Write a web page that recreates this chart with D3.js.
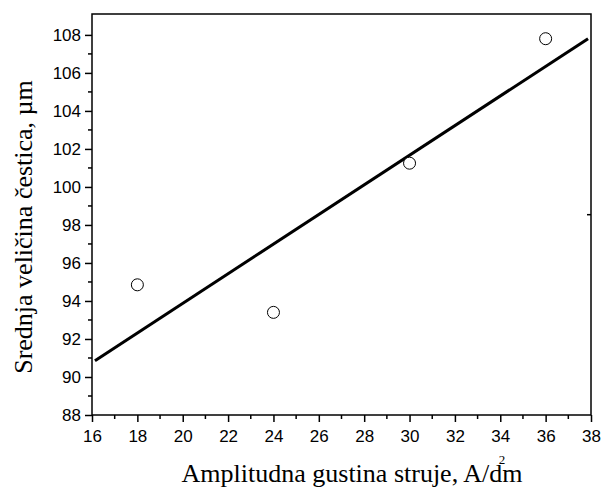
<!DOCTYPE html>
<html>
<head>
<meta charset="utf-8">
<script src="https://cdn.jsdelivr.net/npm/d3@7"></script>
<style>
  body { margin: 0; background: #fff; }
  svg { display: block; }
</style>
</head>
<body>
<div id="vis"></div>
<script>
// measured points
const currentDensity = [18, 24, 30, 36]
const particleSize = [94.85, 93.4, 101.25, 107.8]

// fitted line as drawn (end points)
const fitX = [16.13, 37.87]
const fitY = [90.86, 107.8]

const xTicks = [16, 18, 20, 22, 24, 26, 28, 30, 32, 34, 36, 38]
const yTicks = [88, 90, 92, 94, 96, 98, 100, 102, 104, 106, 108]
const rightTicks = [98.54]

const width = 601
const height = 488
const margin = { top: 14, right: 10, bottom: 73, left: 92 }

const x = d3.scaleLinear()
  .domain([16, 38])
  .range([margin.left, width - margin.right])

const y = d3.scaleLinear()
  .domain([88, 109.1])
  .range([height - margin.bottom, margin.top])

const svg = d3.select("#vis").append("svg")
  .attr("width", width)
  .attr("height", height)

const minorX = d3.range(17, 38, 2)
const minorY = d3.range(89, 109, 2)

// bottom axis
const xAxis = g => g
  .attr("transform", `translate(0,${y(88)})`)
  .call(d3.axisBottom(x).tickValues(xTicks).tickSize(7).tickSizeOuter(0).tickPadding(8))
  .call(g => g.select(".domain").remove())
  .call(g => g.selectAll(".tick line").attr("stroke-width", 1.5))
  .call(g => g.selectAll(".tick text")
    .attr("font-family", "Liberation Sans, Arial, sans-serif")
    .attr("font-size", 17)
    .attr("fill", "#000"))

svg.append("g").call(xAxis)

svg.append("g")
  .attr("transform", `translate(0,${y(88)})`)
  .selectAll("line")
  .data(minorX)
  .join("line")
  .attr("x1", d => x(d)).attr("x2", d => x(d))
  .attr("y1", 0).attr("y2", 4)
  .attr("stroke", "#000")
  .attr("stroke-width", 1.5)

// left axis
const yAxis = g => g
  .attr("transform", `translate(${x(16)},0)`)
  .call(d3.axisLeft(y).tickValues(yTicks).tickSize(7).tickSizeOuter(0).tickPadding(4))
  .call(g => g.select(".domain").remove())
  .call(g => g.selectAll(".tick line").attr("stroke-width", 1.5))
  .call(g => g.selectAll(".tick text")
    .attr("font-family", "Liberation Sans, Arial, sans-serif")
    .attr("font-size", 17)
    .attr("fill", "#000"))

svg.append("g").call(yAxis)

svg.append("g")
  .attr("transform", `translate(${x(16)},0)`)
  .selectAll("line")
  .data(minorY)
  .join("line")
  .attr("x1", -4).attr("x2", 0)
  .attr("y1", d => y(d)).attr("y2", d => y(d))
  .attr("stroke", "#000")
  .attr("stroke-width", 1.5)

// stray tick on the right side
svg.append("g")
  .selectAll("line")
  .data(rightTicks)
  .join("line")
  .attr("x1", x(38) - 4).attr("x2", x(38))
  .attr("y1", d => y(d)).attr("y2", d => y(d))
  .attr("stroke", "#000")
  .attr("stroke-width", 1.5)

// frame
svg.append("rect")
  .attr("x", x(16))
  .attr("y", y(109.1))
  .attr("width", x(38) - x(16))
  .attr("height", y(88) - y(109.1))
  .attr("fill", "none")
  .attr("stroke", "#000")
  .attr("stroke-width", 1.5)

// fit line
const line = d3.line()
  .x(d => x(d[0]))
  .y(d => y(d[1]))

svg.append("path")
  .datum(d3.zip(fitX, fitY))
  .attr("d", line)
  .attr("fill", "none")
  .attr("stroke", "#000")
  .attr("stroke-width", 3)

// points
svg.append("g")
  .selectAll("circle")
  .data(d3.zip(currentDensity, particleSize))
  .join("circle")
  .attr("cx", d => x(d[0]))
  .attr("cy", d => y(d[1]))
  .attr("r", 6)
  .attr("fill", "#fff")
  .attr("stroke", "#000")
  .attr("stroke-width", 1)

// axis titles
svg.append("text")
  .attr("x", 352)
  .attr("y", 482)
  .attr("text-anchor", "middle")
  .attr("font-family", "Liberation Serif, Times New Roman, serif")
  .attr("font-size", 26)
  .attr("fill", "#000")
  .text("Amplitudna gustina struje, A/dm")

svg.append("text")
  .attr("x", 502)
  .attr("y", 464)
  .attr("text-anchor", "middle")
  .attr("font-family", "Liberation Serif, Times New Roman, serif")
  .attr("font-size", 13)
  .attr("fill", "#000")
  .text("2")

svg.append("text")
  .attr("transform", `translate(32,227) rotate(-90)`)
  .attr("text-anchor", "middle")
  .attr("font-family", "Liberation Serif, Times New Roman, serif")
  .attr("font-size", 26)
  .attr("fill", "#000")
  .text("Srednja veličina čestica, µm")
</script>
</body>
</html>
